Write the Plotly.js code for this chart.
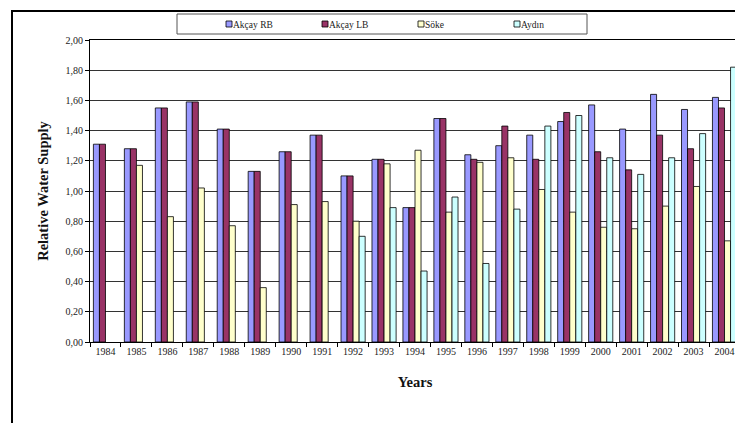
<!DOCTYPE html>
<html>
<head>
<meta charset="utf-8">
<script src="https://cdn.plot.ly/plotly-3.0.1.min.js"></script>
<style>
  html, body { margin: 0; padding: 0; overflow: hidden; background: #fff; width: 735px; height: 423px; }
  #chart { width: 745px; height: 423px; }
  .legend .legendpoints path { transform: translate(36px, 0px) scale(0.5); vector-effect: non-scaling-stroke; }
</style>
</head>
<body>
<div id="chart"></div>
<script>
const years = ["1984","1985","1986","1987","1988","1989","1990","1991","1992","1993","1994",
               "1995","1996","1997","1998","1999","2000","2001","2002","2003","2004"];
const akcayRB = [1.31,1.28,1.55,1.59,1.41,1.13,1.26,1.37,1.10,1.21,0.89,1.48,1.24,1.30,1.37,1.46,1.57,1.41,1.64,1.54,1.62];
const akcayLB = [1.31,1.28,1.55,1.59,1.41,1.13,1.26,1.37,1.10,1.21,0.89,1.48,1.21,1.43,1.21,1.52,1.26,1.14,1.37,1.28,1.55];
const soke    = [null,1.17,0.83,1.02,0.77,0.36,0.91,0.93,0.80,1.18,1.27,0.86,1.19,1.22,1.01,0.86,0.76,0.75,0.90,1.03,0.67];
const aydin   = [null,null,null,null,null,null,null,null,0.70,0.89,0.47,0.96,0.52,0.88,1.43,1.50,1.22,1.11,1.22,1.38,1.82];
const seriesNames = ["Akçay RB","Akçay LB","Söke","Aydın"];
const seriesColors = ["#9999FF","#993366","#FFFFCC","#CCFFFF"];

const FONT = "'Liberation Serif', 'Times New Roman', serif";
const W = 745, H = 423, ML = 90, MR = 5, MT = 40, MB = 81;
const PW = W - ML - MR, PH = H - MT - MB;
const px = x => (x - ML) / PW;
const py = y => (H - MB - y) / PH;

const data = [akcayRB, akcayLB, soke, aydin].map((vals, i) => ({
  type: "bar",
  name: seriesNames[i],
  x: years,
  y: vals,
  marker: { color: seriesColors[i], line: { color: "#000", width: 0.8 } },
  hoverinfo: "x+y+name"
}));

const layout = {
  width: W, height: H,
  margin: { l: ML, r: MR, t: MT, b: MB, pad: 0 },
  paper_bgcolor: "#fff", plot_bgcolor: "#fff",
  separators: ",.",
  barmode: "group", bargap: 0.22, bargroupgap: 0,
  font: { family: FONT, size: 10, color: "#222" },
  showlegend: true,
  legend: {
    orientation: "h", x: px(193), xanchor: "left", y: py(24), yanchor: "middle",
    bgcolor: "rgba(0,0,0,0)", borderwidth: 0,
    font: { family: FONT, size: 9.5, color: "#222" },
    entrywidth: 51, entrywidthmode: "pixels", traceorder: "normal"
  },
  xaxis: {
    type: "category", tickson: "boundaries", ticks: "outside", ticklen: 4, tickcolor: "#000",
    showline: true, linecolor: "#000", linewidth: 1, mirror: true,
    showgrid: false, tickfont: { family: FONT, size: 10, color: "#222" },
    title: { text: "<b>Years</b>", font: { family: FONT, size: 14.5, color: "#111" }, standoff: 20 }
  },
  yaxis: {
    range: [0, 2], dtick: 0.2, tick0: 0, tickformat: ".2f",
    ticks: "outside", ticklen: 4, tickcolor: "#000",
    showline: true, linecolor: "#000", linewidth: 1,
    showgrid: true, gridcolor: "#333", gridwidth: 0.9, zeroline: false,
    tickfont: { family: FONT, size: 10, color: "#222" },
    title: { text: "<b>Relative Water Supply</b>", font: { family: FONT, size: 14.5, color: "#111" }, standoff: 13 }
  },
  shapes: [
    { type: "rect", xref: "paper", yref: "paper", x0: px(12), x1: px(770), y0: py(11), y1: py(450),
      line: { color: "#000", width: 2 }, fillcolor: "rgba(0,0,0,0)", layer: "above" },
    { type: "rect", xref: "paper", yref: "paper", x0: px(177), x1: px(587), y0: py(34), y1: py(14),
      line: { color: "#555", width: 1 }, fillcolor: "rgba(0,0,0,0)", layer: "above" }
  ]
};

Plotly.newPlot("chart", data, layout, { displayModeBar: false, responsive: false });
</script>
</body>
</html>
